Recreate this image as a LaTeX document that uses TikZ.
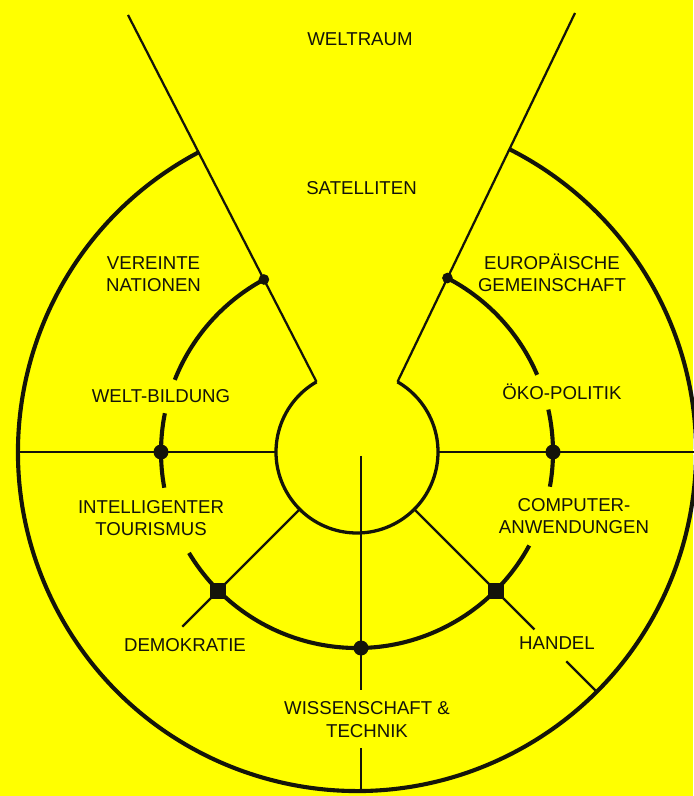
\documentclass[tikz,border=0pt]{standalone}
\usepackage{fontspec}
\setmainfont{Liberation Sans}
\usepackage{xcolor}
\usetikzlibrary{calc, math}
\definecolor{bgyellow}{RGB}{255,255,0}
\definecolor{ink}{RGB}{20,20,10}

\begin{document}
\begin{tikzpicture}[x=0.03cm, y=0.03cm,
  thinline/.style={draw=ink, line width=1.9pt},
  ringline/.style={draw=ink, line width=3.5pt},
  hubline/.style={draw=ink, line width=2.8pt},
  bigdot/.style={circle, fill=ink, inner sep=0pt, minimum size=0.45cm},
  smalldot/.style={circle, fill=ink, inner sep=0pt, minimum size=0.32cm},
  square/.style={rectangle, fill=ink, inner sep=0pt, minimum size=0.48cm},
  lbl/.style={text=ink, font=\fontsize{15.9}{19.2}\selectfont, align=center, inner sep=0pt}]
\tikzmath{
\Rs=81;
\Rm=196;
\Ro=339;
}
\fill[bgyellow] (-357,452) rectangle (336,-344);
\useasboundingbox (-357,452) rectangle (336,-344);

%funnel
\coordinate (topL) at (-229,437);
\coordinate (topR) at (218,439);
\coordinate (gapL) at (120:\Rs);
\coordinate (gapR) at (60:\Rs);
\draw[thinline] (topL) -- (gapL);
\draw[thinline] (topR) -- (gapR);

%rings
\draw[hubline] (gapL) arc[start angle=120, end angle=420, radius=\Rs];
\draw[ringline] (117.9:\Ro) arc[start angle=117.9, end angle=423.3, radius=\Ro];
\draw[ringline] (118.4:\Rm) arc[start angle=118.4, end angle=158.4, radius=\Rm];
\draw[ringline] (168.6:\Rm) arc[start angle=168.6, end angle=190.5, radius=\Rm];
\draw[ringline] (211:\Rm) arc[start angle=211, end angle=331.5, radius=\Rm];
\draw[ringline] (349.8:\Rm) arc[start angle=349.8, end angle=372.5, radius=\Rm];
\draw[ringline] (23.2:\Rm) arc[start angle=23.2, end angle=62.5, radius=\Rm];

%markers
\node[smalldot] (mTL) at ($(topL)!0.721!(gapL)$) {};
\node[smalldot] (mTR) at ($(topR)!0.7185!(gapR)$) {};
\node[bigdot] (mL) at (180:\Rm) {};
\node[bigdot] (mR) at (0:\Rm) {};
\node[bigdot] (mB) at (4,-196) {};
\node[square] (mLL) at (225:\Rm) {};
\node[square] (mLR) at (-45:\Rm) {};

%spokes
\draw[thinline] (180:\Ro) -- (mL.center) -- (180:\Rs);
\draw[thinline] (0:\Rs) -- (mR.center) -- (0:\Ro);
\draw[thinline] (4,-4) -- (mB.center) -- (4,-238);
\draw[thinline] (4,-296) -- (4,-339);
\draw[thinline] (225:\Rs) -- (mLL.center) -- (225:247);
\draw[thinline] (-45:\Rs) -- (mLR.center) -- (-45:251);
\draw[thinline] (-45:296) -- (-45:\Ro);

%labels
\node[lbl] (weltraum) at (3,413) {WELTRAUM};
\node[lbl] (satelliten) at (4.5,264) {SATELLITEN};
\node[lbl] (uno) at (-203.5,178) {VEREINTE\\NATIONEN};
\node[lbl] (eg) at (195,179) {EUROP\"AISCHE\\GEMEINSCHAFT};
\node[lbl] (bildung) at (-196,56) {WELT-BILDUNG};
\node[lbl] (oeko) at (205,60) {\"OKO-POLITIK};
\node[lbl] (tourismus) at (-206,-66) {INTELLIGENTER\\TOURISMUS};
\node[lbl] (computer) at (217,-64) {COMPUTER-\\ANWENDUNGEN};
\node[lbl] (demokratie) at (-172,-193) {DEMOKRATIE};
\node[lbl] (handel) at (200,-191) {HANDEL};
\node[lbl] (technik) at (10,-267.5) {WISSENSCHAFT \&\\TECHNIK};

\end{tikzpicture}
\end{document}
